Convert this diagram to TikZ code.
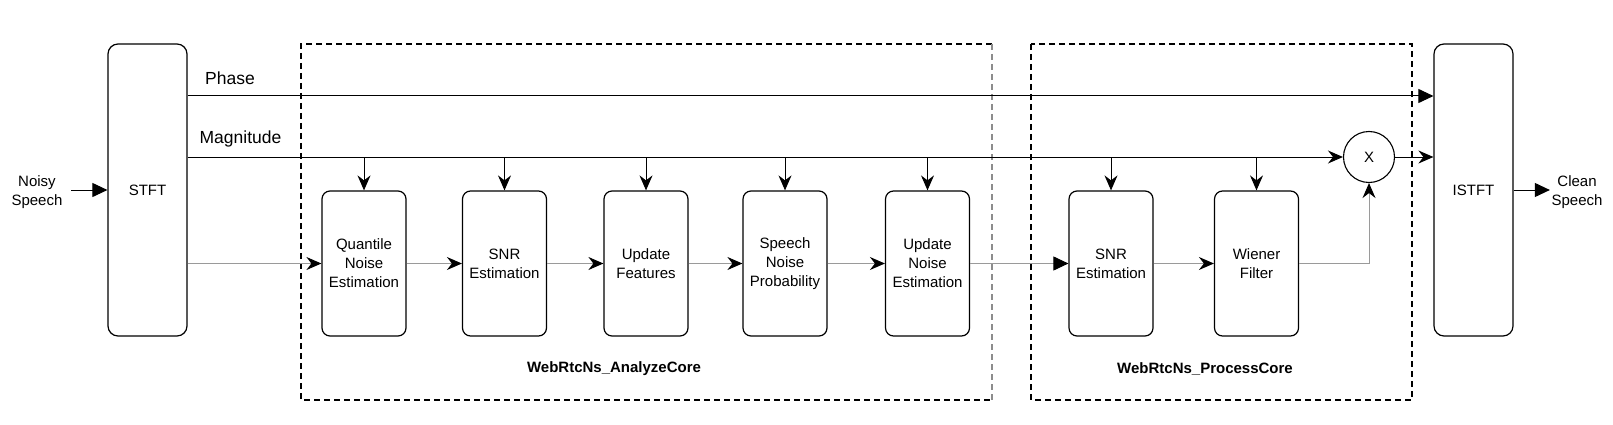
\documentclass[tikz,border=0pt]{standalone}
\usepackage{fontspec}
\setmainfont{Liberation Sans}
\usetikzlibrary{arrows.meta}
\definecolor{flowgray}{HTML}{9A9A9A}
\definecolor{edgegray}{HTML}{8C8C8C}

\begin{document}
\begin{tikzpicture}[x=1pt,y=-1pt,
    block/.style={draw,line width=1.2pt,rounded corners=8pt,minimum width=84pt,minimum height=145pt,align=center,font=\fontsize{15}{19}\selectfont},
    tall/.style={block,minimum width=79pt,minimum height=292pt,rounded corners=10pt},
    txt/.style={align=center,inner sep=0pt,font=\fontsize{15}{18.5}\selectfont},
    blockarrow/.style={line width=1pt,-{Triangle[length=15pt,width=14pt]}},
    classic/.style={line width=1pt,-{Stealth[length=15pt,width=13pt,inset=5pt,color=black]}},
    grouprect/.style={line width=1.1pt,dash pattern=on 6pt off 4pt}]
    \useasboundingbox (0,0) rectangle (1613,425);
    \coordinate (phase) at (0,96);
    \coordinate (mag) at (0,157);
    \node[tall] (stft) at (147.5,190) {STFT};
    \node[tall] (istft) at (1473.5,190) {ISTFT};
    \node[txt,inner xsep=8.5pt] (noisy) at (37,192) {Noisy\\Speech};
    \node[txt,inner xsep=1.5pt] (clean) at (1577,192) {Clean\\Speech};
    \node[block] (quant) at (364,263.5) {Quantile\\Noise\\Estimation};
    \node[block] (snra) at (504.5,263.5) {SNR\\Estimation};
    \node[block] (feat) at (646,263.5) {Update\\Features};
    \node[block] (prob) at (785,263.5) {Speech\\Noise\\Probability};
    \node[block] (noise) at (927.5,263.5) {Update\\Noise\\Estimation};
    \node[block] (snrp) at (1111,263.5) {SNR\\Estimation};
    \node[block] (wiener) at (1256.5,263.5) {Wiener\\Filter};
    \node[draw,circle,line width=1.1pt,minimum size=51pt,inner sep=0pt,font=\fontsize{15}{18}\selectfont] (mult) at (1369,157) {X};
    \node[font=\fontsize{17.5}{20}\selectfont] (phaselbl) at (230,78) {Phase};
    \node[font=\fontsize{17.5}{20}\selectfont] (maglbl) at (240.5,139) {Magnitude};
    \node[font=\bfseries\fontsize{15}{18}\selectfont] (anlbl) at (614,369) {WebRtcNs\_AnalyzeCore};
    \node[font=\bfseries\fontsize{15}{18}\selectfont] (prlbl) at (1205,369) {WebRtcNs\_ProcessCore};

    \draw[grouprect] (992,44) -- (301,44) -- (301,400) -- (992,400);
    \draw[grouprect,edgegray] (992,44) -- (992,400);
    \draw[grouprect] (1031,44) rectangle (1412,400);

    \draw[blockarrow] (noisy.east |- stft) -- (stft);
    \draw[blockarrow] (stft.east |- phase) -- (istft.west |- phase);
    \draw[classic] (stft.east |- mag) -- (mult);
    \draw[classic] (mult) -- (istft.west |- mult);
    \foreach \b in {quant,snra,feat,prob,noise,snrp,wiener}
        \draw[classic] (\b.north |- mag) -- (\b.north);
    \draw[classic,flowgray] (stft.east |- quant) -- (quant);
    \draw[classic,flowgray] (quant) -- (snra);
    \draw[classic,flowgray] (snra) -- (feat);
    \draw[classic,flowgray] (feat) -- (prob);
    \draw[classic,flowgray] (prob) -- (noise);
    \draw[line width=1pt,flowgray,-{Triangle[length=15pt,width=14pt,color=black]}] (noise) -- (snrp);
    \draw[classic,flowgray] (snrp) -- (wiener);
    \draw[classic,flowgray] (wiener) -| (mult);
    \draw[blockarrow] (istft) -- (istft -| clean.west);
\end{tikzpicture}
\end{document}
